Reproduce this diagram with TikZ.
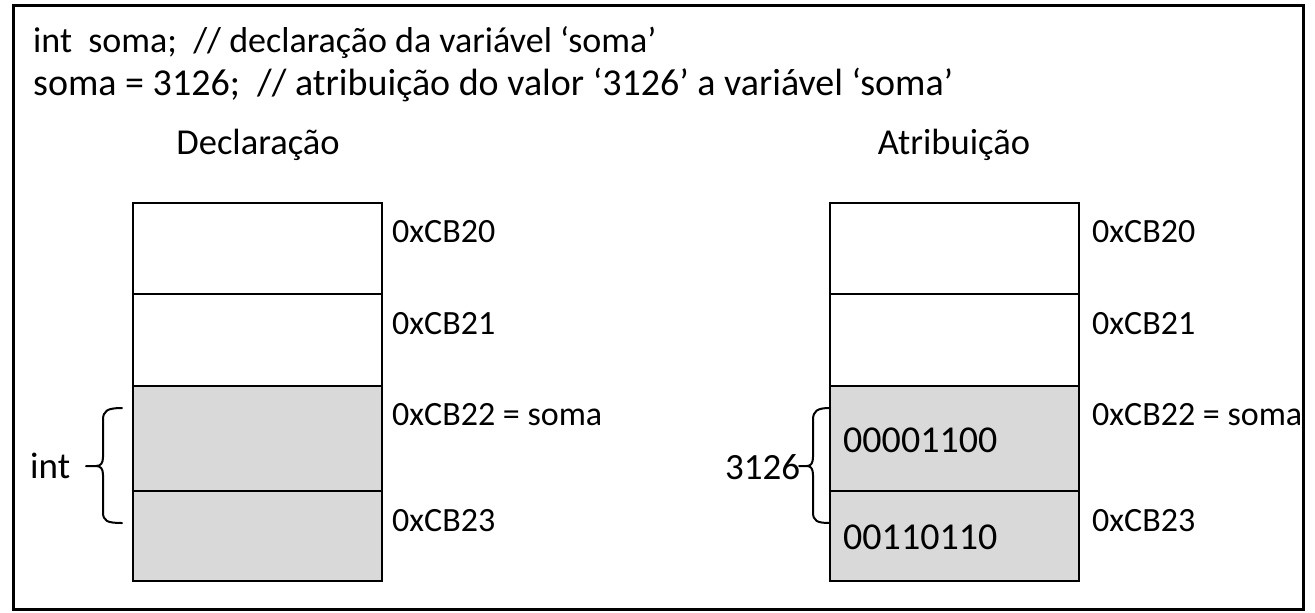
\documentclass[tikz,border=0pt]{standalone}
\usepackage{fontspec}
\setmainfont{Carlito}
\begin{document}
\begin{tikzpicture}[x=1pt,y=-1pt,
  cellw/.style={draw=black,line width=2pt,fill=white,inner sep=0pt,minimum width=249pt},
  cellg/.style={draw=black,line width=2pt,fill=cellgray,inner sep=0pt,minimum width=249pt},
  addr/.style={anchor=base west,inner sep=0pt,font=\fontsize{34}{40}\selectfont},
  head/.style={anchor=base west,inner sep=0pt},
  title/.style={anchor=base,inner sep=0pt,font=\fontsize{36.5}{42}\selectfont},
  bits/.style={anchor=base west,inner sep=0pt,font=\fontsize{38}{44}\selectfont},
  bracestyle/.style={line width=2pt,line cap=round,line join=round}
]
\definecolor{cellgray}{RGB}{217,217,217}
\useasboundingbox (0,0) rectangle (1315,613);
\draw[line width=3pt] (13,5) rectangle (1303,609);

\node[head,font=\fontsize{36}{42}\selectfont] (l1) at (33,52) {int\ \ soma;\ \ // declaração da variável ‘soma’};
\node[head,font=\fontsize{38}{44}\selectfont] (l2) at (33,95) {soma = 3126;\ \ // atribuição do valor ‘3126’ a variável ‘soma’};

\node[title] (tdec) at (258,154) {Declaração};
\node[title] (tatr) at (954,154) {Atribuição};

% left column
\node[cellw,minimum height=91pt] (a1) at (257.5,248.5) {};
\node[cellw,minimum height=92pt] (a2) at (257.5,340) {};
\node[cellg,minimum height=105pt] (a3) at (257.5,438.5) {};
\node[cellg,minimum height=90pt] (a4) at (257.5,536) {};
% right column
\node[cellw,minimum height=91pt] (b1) at (954.5,248.5) {};
\node[cellw,minimum height=92pt] (b2) at (954.5,340) {};
\node[cellg,minimum height=105pt] (b3) at (954.5,438.5) {};
\node[cellg,minimum height=90pt] (b4) at (954.5,536) {};

\node[addr] (la1) at (392,242) {0xCB20};
\node[addr] (la2) at (392,334) {0xCB21};
\node[addr] (la3) at (392,425) {0xCB22 = soma};
\node[addr] (la4) at (392,531) {0xCB23};
\node[addr] (lb1) at (1092,242) {0xCB20};
\node[addr] (lb2) at (1092,334) {0xCB21};
\node[addr] (lb3) at (1092,425) {0xCB22 = soma};
\node[addr] (lb4) at (1092,531) {0xCB23};

\node[bits] (v1) at (843,452) {00001100};
\node[bits] (v2) at (843,549) {00110110};

\node[anchor=base west,inner sep=0pt,font=\fontsize{37}{42}\selectfont] (tint) at (30,478) {int};
\node[anchor=base west,inner sep=0pt,font=\fontsize{37}{42}\selectfont] (t3126) at (725,479) {3126};

% braces
\draw[bracestyle] (122,408) .. controls (107,408) and (103,411) .. (103,420) -- (103,457)
  .. controls (103,463) and (101,466) .. (96,466) -- (86,466)
  (96,466) .. controls (101,466) and (103,469) .. (103,475) -- (103,512)
  .. controls (103,521) and (107,523) .. (122,523);
\draw[bracestyle] (830,408) .. controls (817,408) and (813,411) .. (813,420) -- (813,457)
  .. controls (813,463) and (811,466) .. (807,466) -- (799,466)
  (807,466) .. controls (811,466) and (813,469) .. (813,475) -- (813,512)
  .. controls (813,521) and (817,523) .. (830,523);
\end{tikzpicture}
\end{document}
